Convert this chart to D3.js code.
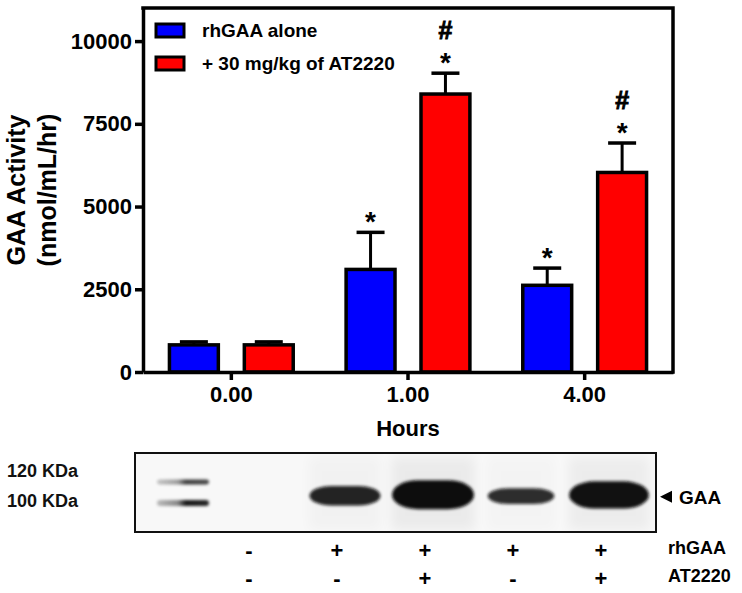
<!DOCTYPE html>
<html>
<head>
<meta charset="utf-8">
<script src="https://cdn.jsdelivr.net/npm/d3@7"></script>
<style>
  body { margin: 0; background: #fff; }
  svg { display: block; font-family: 'Liberation Sans', Arial, sans-serif; }
</style>
</head>
<body>
<div id="chart"></div>
<script>
// bar chart values (nmol/mL/hr)
const hours = ['0.00', '1.00', '4.00'];
const aloneMean = [820, 3100, 2620];
const aloneSem = [90, 1120, 520];
const atMean = [820, 8400, 6030];
const atSem = [90, 630, 890];
const aloneStar = [false, true, true];
const atStar = [false, true, true];
const atHash = [false, true, true];
const yTicks = [0, 2500, 5000, 7500, 10000];
const seriesNames = ['rhGAA alone', '+ 30 mg/kg of AT2220'];
const seriesColors = ['#0000ff', '#ff0000'];

// western blot lanes
const laneRh = ['-', '+', '+', '+', '+'];
const laneAT = ['-', '-', '+', '-', '+'];
const gaaBand = [0, 0.5, 1, 0.3, 0.9];   // relative band intensity
const markerKDa = [120, 100];
const ladderBand = [0.6, 1];

const W = 742, H = 593;
const svg = d3.select('#chart').append('svg').attr('width', W).attr('height', H);

const pLeft = 143, pRight = 673, pTop = 8, pBottom = 372;
const y = d3.scaleLinear().domain([0, 11000]).range([pBottom, pTop]);
const x = d3.scaleBand().domain(hours).range([pLeft, pRight]);
const xs = d3.scaleBand().domain([0, 1]).range([0, x.bandwidth()])
  .paddingInner(0.307).paddingOuter(0.333);

const series = [
  {mean: aloneMean, sem: aloneSem, star: aloneStar, hash: [false, false, false]},
  {mean: atMean, sem: atSem, star: atStar, hash: atHash}
];
const bars = [];
series.forEach((s, si) => hours.forEach((h, i) => bars.push({
  h, si, v: s.mean[i], e: s.sem[i], star: s.star[i], hash: s.hash[i]
})));

const g = svg.append('g');

// error bars (upper only)
const bx = d => x(d.h) + xs(d.si) + xs.bandwidth() / 2;
g.selectAll('line.err').data(bars).enter().append('line')
  .attr('x1', bx).attr('x2', bx)
  .attr('y1', d => y(d.v)).attr('y2', d => y(d.v + d.e))
  .attr('stroke', '#000').attr('stroke-width', 3);
g.selectAll('line.cap').data(bars).enter().append('line')
  .attr('x1', d => bx(d) - 14).attr('x2', d => bx(d) + 14)
  .attr('y1', d => y(d.v + d.e)).attr('y2', d => y(d.v + d.e))
  .attr('stroke', '#000').attr('stroke-width', 3.5);

g.selectAll('rect.bar').data(bars).enter().append('rect')
  .attr('x', d => x(d.h) + xs(d.si) + 1.5)
  .attr('width', xs.bandwidth() - 3)
  .attr('y', d => y(d.v))
  .attr('height', d => y(0) - y(d.v))
  .attr('fill', d => seriesColors[d.si])
  .attr('stroke', '#000').attr('stroke-width', 3.5);

// significance marks
g.selectAll('text.star').data(bars.filter(d => d.star)).enter().append('text')
  .attr('x', bx).attr('y', d => y(d.v + d.e) - 1)
  .attr('text-anchor', 'middle').attr('font-size', 28).attr('font-weight', 'bold')
  .text('*');
g.selectAll('text.hash').data(bars.filter(d => d.hash)).enter().append('text')
  .attr('x', bx).attr('y', d => y(d.v + d.e) - 34)
  .attr('text-anchor', 'middle').attr('font-size', 25).attr('font-weight', 'bold')
  .attr('stroke', '#000').attr('stroke-width', 0.9)
  .text('#');

// axes
const yAxis = svg.append('g').attr('transform', `translate(${pLeft},0)`)
  .call(d3.axisLeft(y).tickValues(yTicks).tickFormat(d3.format('d'))
    .tickSize(8).tickPadding(3).tickSizeOuter(0));
const xAxis = svg.append('g').attr('transform', `translate(0,${pBottom})`)
  .call(d3.axisBottom(x).tickSize(8).tickSizeOuter(0));
[yAxis, xAxis].forEach(a => {
  a.select('.domain').attr('stroke-width', 3.5);
  a.selectAll('.tick line').attr('stroke-width', 3.5);
  a.selectAll('text').attr('font-size', 22).attr('font-weight', 'bold')
    .attr('font-family', "'Liberation Sans', Arial, sans-serif").attr('fill', '#000');
});
xAxis.selectAll('text').attr('y', 30).attr('dy', 0);

// frame top / right
svg.append('path')
  .attr('d', `M${pLeft},${pTop}H${pRight}V${pBottom}`)
  .attr('fill', 'none').attr('stroke', '#000').attr('stroke-width', 3.5)
  .attr('stroke-linecap', 'square');

// axis titles
const yt = svg.append('text').attr('transform', 'translate(25,190) rotate(-90)')
  .attr('text-anchor', 'middle').attr('font-size', 25).attr('font-weight', 'bold');
yt.append('tspan').attr('x', 0).attr('y', 0).text('GAA Activity');
yt.append('tspan').attr('x', 0).attr('y', 31).text('(nmol/mL/hr)');
svg.append('text').attr('x', x('1.00') + x.bandwidth() / 2).attr('y', 436)
  .attr('text-anchor', 'middle').attr('font-size', 22).attr('font-weight', 'bold')
  .text('Hours');

// legend
const lg = svg.append('g').selectAll('g').data(seriesNames).enter().append('g')
  .attr('transform', (d, i) => `translate(156,${24 + i * 33})`);
lg.append('rect').attr('width', 28).attr('height', 13)
  .attr('fill', (d, i) => seriesColors[i]).attr('stroke', '#000').attr('stroke-width', 3);
lg.append('text').attr('x', 46).attr('y', 13)
  .attr('font-size', 19).attr('font-weight', 'bold').text(d => d);

// ---- western blot ----
const blot = {x0: 135, x1: 656, y0: 453, y1: 532};
const lane = d3.scalePoint().domain(d3.range(laneRh.length)).range([249, 601]);
const kda = d3.scaleLinear().domain([100, 120]).range([503, 482]);
const defs = svg.append('defs');
defs.append('filter').attr('id', 'blur1').attr('x', '-20%').attr('y', '-60%')
  .attr('width', '140%').attr('height', '220%')
  .append('feGaussianBlur').attr('stdDeviation', 1.6);
defs.append('filter').attr('id', 'blur6').attr('x', '-50%').attr('y', '-50%')
  .attr('width', '200%').attr('height', '200%')
  .append('feGaussianBlur').attr('stdDeviation', 6);
const lgGrad = defs.append('linearGradient').attr('id', 'ladderGrad');
[[0, 0.25], [0.4, 0.45], [0.55, 0.9], [1, 0.85]].forEach(s =>
  lgGrad.append('stop').attr('offset', s[0]).attr('stop-color', '#000').attr('stop-opacity', s[1]));
defs.append('clipPath').attr('id', 'blotClip').append('rect')
  .attr('x', blot.x0).attr('y', blot.y0)
  .attr('width', blot.x1 - blot.x0).attr('height', blot.y1 - blot.y0);

const bg = svg.append('g');
bg.append('rect').attr('x', blot.x0).attr('y', blot.y0)
  .attr('width', blot.x1 - blot.x0).attr('height', blot.y1 - blot.y0)
  .attr('fill', '#f8f8f8');
const ib = bg.append('g').attr('clip-path', 'url(#blotClip)');

// halos
ib.selectAll('rect.halo').data(gaaBand.map((v, i) => ({v, i})).filter(d => d.v > 0))
  .enter().append('rect')
  .attr('x', d => lane(d.i) + 8 - (62 + 22 * d.v) / 2)
  .attr('width', d => 62 + 22 * d.v)
  .attr('y', blot.y0 + 4).attr('height', blot.y1 - blot.y0 - 6)
  .attr('fill', '#000').attr('opacity', d => 0.05 * d.v).attr('filter', 'url(#blur6)');

// ladder
ib.selectAll('rect.ladder').data(markerKDa).enter().append('rect')
  .attr('x', 157).attr('width', 52)
  .attr('y', (d, i) => kda(d) - (3 + 3 * ladderBand[i]) / 2)
  .attr('height', (d, i) => 3 + 3 * ladderBand[i])
  .attr('rx', 3)
  .attr('fill', 'url(#ladderGrad)').attr('opacity', (d, i) => 0.6 + 0.4 * ladderBand[i])
  .attr('filter', 'url(#blur1)');

// GAA bands
ib.selectAll('rect.band').data(gaaBand.map((v, i) => ({v, i})).filter(d => d.v > 0))
  .enter().append('rect')
  .attr('x', d => lane(d.i) + 8 - (60 + 22 * d.v) / 2)
  .attr('width', d => 60 + 22 * d.v)
  .attr('y', d => kda(106) - 2 * d.v - (10 + 19 * d.v) / 2)
  .attr('height', d => 10 + 19 * d.v)
  .attr('rx', d => 18 + 8 * d.v).attr('ry', d => (10 + 19 * d.v) / 2)
  .attr('fill', '#0c0c0c').attr('opacity', d => 0.8 + 0.2 * d.v)
  .attr('filter', 'url(#blur1)');

bg.append('rect').attr('x', blot.x0).attr('y', blot.y0)
  .attr('width', blot.x1 - blot.x0).attr('height', blot.y1 - blot.y0)
  .attr('fill', 'none').attr('stroke', '#111').attr('stroke-width', 2);

// marker labels
svg.selectAll('text.kda').data(markerKDa).enter().append('text')
  .attr('x', 7).attr('y', (d, i) => i === 0 ? kda(d) - 5 : kda(d) + 4)
  .attr('font-size', 18).attr('font-weight', 'bold').attr('fill', '#111')
  .text(d => d + ' KDa');

// GAA arrow
const gy = kda(106);
svg.append('path').attr('d', `M660,${gy}L672,${gy - 6}V${gy + 6}Z`).attr('fill', '#000');
svg.append('text').attr('x', 679).attr('y', gy + 7)
  .attr('font-size', 19).attr('font-weight', 'bold').text('GAA');

// lane treatment rows
const rows = [{lab: 'rhGAA', vals: laneRh, yb: 558}, {lab: 'AT2220', vals: laneAT, yb: 586}];
rows.forEach(r => {
  svg.selectAll(null).data(r.vals).enter().append('text')
    .attr('x', (d, i) => lane(i)).attr('y', r.yb)
    .attr('text-anchor', 'middle').attr('font-size', 22).attr('font-weight', 'bold')
    .text(d => d);
  svg.append('text').attr('x', 668).attr('y', r.yb - 4)
    .attr('font-size', 18).attr('font-weight', 'bold').text(r.lab);
});
</script>
</body>
</html>
